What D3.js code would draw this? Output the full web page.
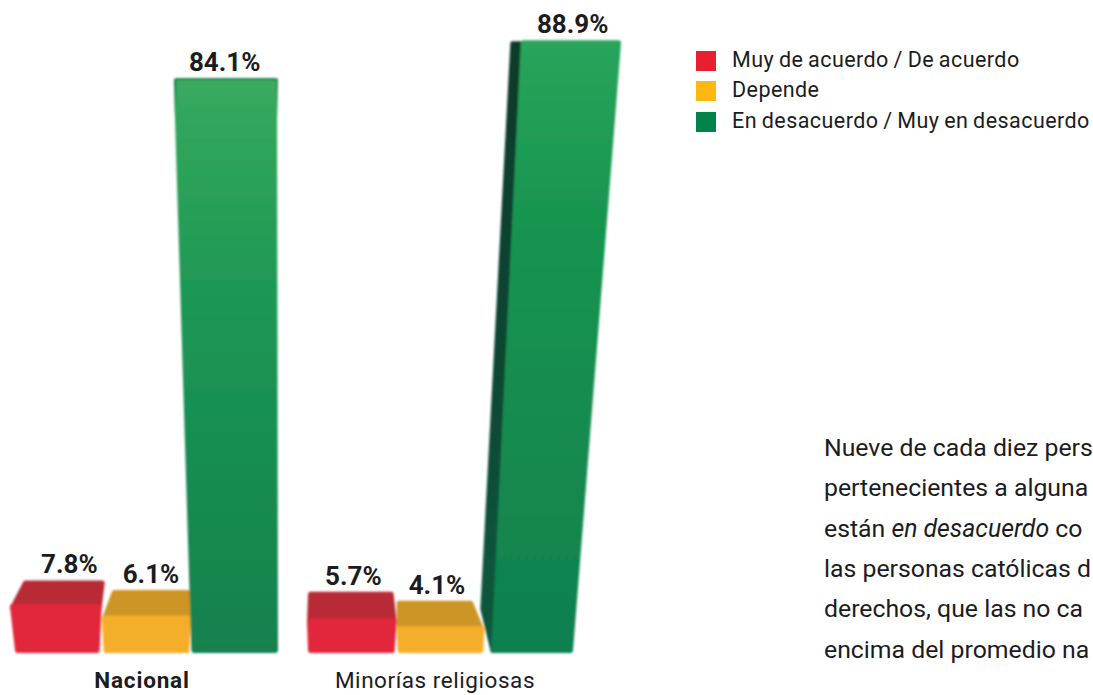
<!DOCTYPE html>
<html><head><meta charset="utf-8">
<script src="https://cdn.jsdelivr.net/npm/d3@7"></script>
<style>
html,body{margin:0;padding:0;background:#fff;overflow:hidden}
svg{display:block}
text{font-family:"Roboto",sans-serif;fill:#1c1c1e}
</style></head><body>
<svg id="c" width="1093" height="695"></svg>
<script>
const groups = ["Nacional", "Minorías religiosas"];
const seriesNames = ["Muy de acuerdo / De acuerdo", "Depende", "En desacuerdo / Muy en desacuerdo"];
const nacional = [7.8, 6.1, 84.1];
const minorias = [5.7, 4.1, 88.9];
const seriesColors = ["#e81f30", "#fdb813", "#00824a"];
const noteLines = [
  [["Nueve de cada diez pers", false]],
  [["pertenecientes a alguna", false]],
  [["están ", false], ["en desacuerdo", true], [" co", false]],
  [["las personas católicas d", false]],
  [["derechos, que las no ca", false]],
  [["encima del promedio na", false]]
];

/* drawing geometry, all relative to the scales */
const look = [
 [{bl:2,br:-2,tl:-3,tr:0,kl:10,kr:3,rise:19,depth:25,lx:12},
  {bl:2,br:-1,tl:0,tr:1,kl:10,kr:1,rise:21,depth:27,lx:5},
  {bl:1,br:-1,tl:-14,tr:-2,kl:-14,kr:-2,rise:-3,depth:0,lx:-10}],
 [{bl:1,br:-1,tl:0,tr:1,kl:1,kr:-2,rise:22,depth:28,lx:2},
  {bl:2,br:-1,tl:1,tr:0,kl:1,kr:-11,rise:24,depth:27,lx:-3},
  {bl:7,br:0,tl:39,tr:48,kl:39,kr:48,rise:2,depth:0,lx:44,side:true}]
];

const svg = d3.select("#c");
const y = d3.scaleLinear().domain([0, 100]).range([653, -34]);
const x0 = d3.scaleOrdinal().domain(groups).range([13, 307]);
const x1 = d3.scaleBand().domain(d3.range(3)).range([0, 266]);

const defs = svg.append("defs");
defs.append("filter").attr("id","soft").attr("x","-5%").attr("y","-5%").attr("width","110%").attr("height","110%")
  .append("feGaussianBlur").attr("stdDeviation",0.8);
function grad(id, stops){
  const g = defs.append("linearGradient").attr("id",id).attr("gradientUnits","userSpaceOnUse")
    .attr("x1",0).attr("x2",0).attr("y1",y(90)).attr("y2",y(0));
  stops.forEach(s=>g.append("stop").attr("offset",s[0]).attr("stop-color",s[1]));
}
grad("g0",[[0,"#4ab066"],[0.12,"#33a75c"],[0.45,"#1c9653"],[1,"#12814f"]]);
grad("g1",[[0,"#2aa55c"],[0.3,"#189550"],[1,"#10804f"]]);
grad("side",[[0,"#0d3b2a"],[0.5,"#0d4632"],[1,"#0f5a40"]]);
const rim = defs.append("linearGradient").attr("id","rim").attr("gradientUnits","userSpaceOnUse")
  .attr("x1",0).attr("x2",0).attr("y1",y(84.1)+3).attr("y2",y(84.1)+45);
rim.append("stop").attr("offset",0).attr("stop-color","#0e6b42");
rim.append("stop").attr("offset",1).attr("stop-color","#0e6b42").attr("stop-opacity",0);

const bars = [];
groups.forEach((g,gi)=>{
  [nacional, minorias][gi].forEach((v,si)=>bars.push({g,gi,si,v,k:look[gi][si]}));
});
const line = d3.line();
const pts = d=>{
  const L = x0(d.g)+x1(d.si), R = L+x1.bandwidth(), k=d.k;
  const back = y(d.v)-k.rise, front = back+k.depth;
  return {L,R,back,front,k};
};
const chart = svg.append("g").attr("filter","url(#soft)");
const topFill = ["#b82a36","#cc9527"];
const frontFill = ["#e2263a","#f4ae2b"];
const R = 2.5;   // corner radius, drawn as a round-joined stroke around an inset shape

bars.slice().sort((a,b)=>a.si-b.si).forEach(d=>{
  const p = pts(d), k=p.k, base=y(0);
  const col = d.si===2 ? `url(#g${d.gi})` : frontFill[d.si];
  if(d.si<2){
    chart.append("path").datum(d).attr("class","top")
      .attr("d",line([[p.L+k.kl+R,p.back+R],[p.R+k.kr-R,p.back+R],[p.R+k.tr-R,p.front+R],[p.L+k.tl+R,p.front+R]])+"Z")
      .attr("fill",topFill[d.si]).attr("stroke",topFill[d.si]).attr("stroke-width",2*R).attr("stroke-linejoin","round");
  }
  if(k.side){
    chart.append("path").datum(d)
      .attr("d",line([[p.L+k.tl-11,p.front+3],[p.L+k.tl+2,p.front+3],[p.L+k.bl+1,base-2],[p.L+8,base-3],[p.L-2,base-44]])+"Z")
      .attr("fill","url(#side)").attr("stroke","url(#side)").attr("stroke-width",4).attr("stroke-linejoin","round");
  }
  chart.append("path").datum(d).attr("class","bar")
    .attr("d",line([[p.L+k.tl+(d.si===2?0:R),p.front+(d.si===2?R:1)],[p.R+k.tr-R,p.front+(d.si===2?R:1)],[p.R+k.br-R,base-R],[p.L+k.bl+R,base-R]])+"Z")
    .attr("fill",col).attr("stroke",col).attr("stroke-width",2*R).attr("stroke-linejoin","round");
  if(d.si===2 && !k.side){
    chart.append("path")
      .attr("d",line([[p.L+k.tl-1,p.front+48],[p.L+k.tl-1,p.front+1],[p.R+k.tr,p.front+1],[p.R+k.tr+0.5,p.front+48]]))
      .attr("fill","none").attr("stroke","url(#rim)").attr("stroke-width",1.6).attr("stroke-linejoin","round");
  }
});

/* value labels */
svg.append("g").selectAll("text").data(bars).join("text")
  .attr("x",d=>{const p=pts(d);return p.L+x1.bandwidth()/2+p.k.lx;})
  .attr("y",d=>pts(d).back-7)
  .attr("text-anchor","middle").attr("font-size",26).attr("font-weight",700)
  .text(d=>d.v.toFixed(1)+"%");

/* group labels */
svg.append("g").selectAll("text").data(groups).join("text")
  .attr("x",(d,i)=>[142,435][i]).attr("y",688)
  .attr("text-anchor","middle").attr("font-size",22.5)
  .attr("font-weight",(d,i)=>i===0?700:400).attr("letter-spacing",(d,i)=>i===0?0.8:0.55)
  .text(d=>d);

/* legend */
const leg = svg.append("g").selectAll("g").data(seriesNames).join("g")
  .attr("transform",(d,i)=>`translate(696,${[51,81,112][i]})`);
leg.append("rect").attr("width",20).attr("height",20).attr("fill",(d,i)=>seriesColors[i]);
leg.append("text").attr("x",36).attr("y",16).attr("font-size",21.5).attr("letter-spacing",0.44).attr("word-spacing",-1)
  .attr("fill","#2a2a2c").text(d=>d);

/* note */
const note = svg.append("g");
noteLines.forEach((ln,i)=>{
  const t = note.append("text").attr("x",824).attr("y",456+i*40.3).attr("font-size",24.8);
  ln.forEach(s=>t.append("tspan").attr("font-style",s[1]?"italic":"normal").text(s[0]));
});
</script></body></html>
